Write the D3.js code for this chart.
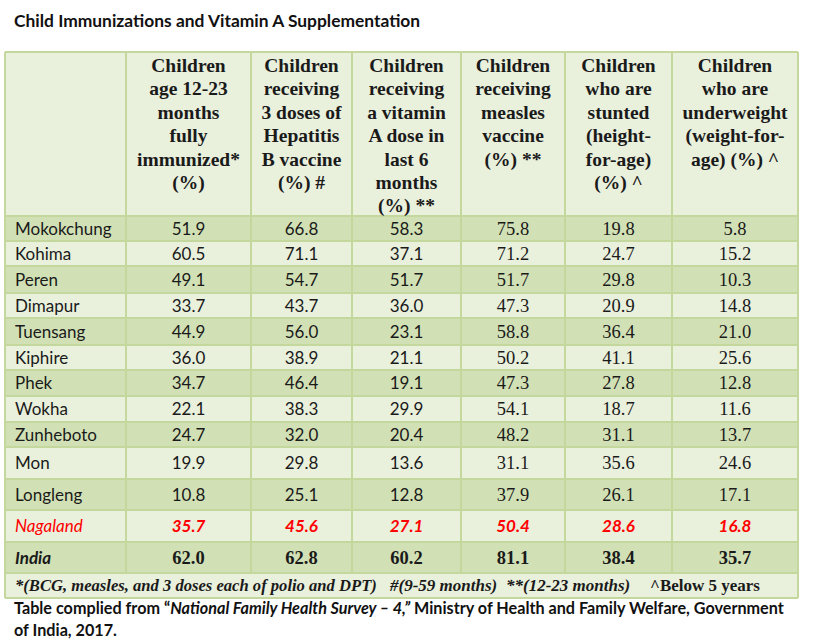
<!DOCTYPE html>
<html><head><meta charset="utf-8">
<script src="https://cdn.jsdelivr.net/npm/d3@7"></script>
<style>
html,body{margin:0;padding:0;background:#fff;}
svg{display:block;}
</style></head>
<body>
<script>
// ---------- data ----------
const title = "Child Immunizations and Vitamin A Supplementation";
const districts = ["Mokokchung","Kohima","Peren","Dimapur","Tuensang","Kiphire","Phek","Wokha","Zunheboto","Mon","Longleng","Nagaland","India"];
const fullyImmunized = [51.9,60.5,49.1,33.7,44.9,36.0,34.7,22.1,24.7,19.9,10.8,35.7,62.0];
const hepatitisB     = [66.8,71.1,54.7,43.7,56.0,38.9,46.4,38.3,32.0,29.8,25.1,45.6,62.8];
const vitaminA       = [58.3,37.1,51.7,36.0,23.1,21.1,19.1,29.9,20.4,13.6,12.8,27.1,60.2];
const measles        = [75.8,71.2,51.7,47.3,58.8,50.2,47.3,54.1,48.2,31.1,37.9,50.4,81.1];
const stunted        = [19.8,24.7,29.8,20.9,36.4,41.1,27.8,18.7,31.1,35.6,26.1,28.6,38.4];
const underweight    = [5.8,15.2,10.3,14.8,21.0,25.6,12.8,11.6,13.7,24.6,17.1,16.8,35.7];
const headers = [
  ["Children","age 12-23","months","fully","immunized*","(%)"],
  ["Children","receiving","3 doses of","Hepatitis","B vaccine","(%) #"],
  ["Children","receiving","a vitamin","A dose in","last 6","months","(%) **"],
  ["Children","receiving","measles","vaccine","(%) **"],
  ["Children","who are","stunted","(height-","for-age)","(%) ^"],
  ["Children","who are","underweight","(weight-for-","age) (%) ^"]
];
const footnotes = ["*(BCG, measles, and 3 doses each of polio and DPT)", "#(9-59 months)", "**(12-23 months)", "^Below 5 years"];
const sourceLine1a = "Table complied from \u201c";
const sourceLine1b = "National Family Health Survey \u2013 4,\u201d";
const sourceLine1c = " Ministry of Health and Family Welfare, Government";
const sourceLine2 = "of India, 2017.";

// ---------- layout ----------
const W = 813, H = 644;
const colEdges = [5,126,251,352,461,565,672,798];
const tableTop = 52, headerBottom = 216;
const rowHeights = [25,25,27,25,27,25,26,26,25,32,31,32,31];
const footH = 25;
const footX = [15, 390, 506, 650];
const footSize = [16.6, 17, 17, 17];
const light = "#e9f0dc", dark = "#d2e1b5", border = "#c4d89e";
const sans = "Lato, 'Open Sans', sans-serif";
const serif = "'Liberation Serif', 'Times New Roman', serif";

const series = [fullyImmunized, hepatitisB, vitaminA, measles, stunted, underweight];
const rowTops = d3.cumsum([headerBottom, ...rowHeights]).slice(0, rowHeights.length);
const tableBottom = headerBottom + d3.sum(rowHeights);

const y = d3.scaleOrdinal().domain(districts).range(rowTops);
const colKeys = d3.range(colEdges.length - 1);
const xLeft = d3.scaleOrdinal().domain(colKeys).range(colEdges.slice(0, -1));
const xRight = d3.scaleOrdinal().domain(colKeys).range(colEdges.slice(1));
const xMid = c => (xLeft(c) + xRight(c)) / 2;
const fmt = d3.format(".1f");

const svg = d3.select("body").append("svg").attr("width", W).attr("height", H);

// title
svg.append("text").attr("x", 14).attr("y", 27)
  .attr("font-family", sans).attr("font-weight", 700).attr("font-size", 17.4)
  .attr("fill", "#111").text(title);

// header background
svg.append("rect").attr("x", colEdges[0]).attr("y", tableTop)
  .attr("width", colEdges[colEdges.length-1]-colEdges[0]).attr("height", headerBottom - tableTop)
  .attr("fill", light);

// row backgrounds
svg.selectAll("rect.row").data(districts).join("rect").attr("class","row")
  .attr("x", colEdges[0]).attr("y", d => y(d))
  .attr("width", colEdges[colEdges.length-1]-colEdges[0])
  .attr("height", (d,i) => rowHeights[i])
  .attr("fill", (d,i) => i % 2 === 0 ? dark : light);

// footnote background
svg.append("rect").attr("x", colEdges[0]).attr("y", tableBottom)
  .attr("width", colEdges[colEdges.length-1]-colEdges[0]).attr("height", footH)
  .attr("fill", light);

// grid lines
const g = svg.append("g").attr("stroke", border).attr("stroke-width", 2);
[tableTop, ...rowTops, tableBottom, tableBottom + footH].forEach(yy => {
  g.append("line").attr("x1", colEdges[0]).attr("x2", colEdges[colEdges.length-1]).attr("y1", yy).attr("y2", yy);
});
colEdges.forEach((xx, i) => {
  const full = i === 0 || i === colEdges.length - 1;
  g.append("line").attr("x1", xx).attr("x2", xx).attr("y1", tableTop).attr("y2", full ? tableBottom + footH : tableBottom);
});

// headers
headers.forEach((lines, c) => {
  const t = svg.append("text").attr("text-anchor", "middle")
    .attr("font-family", serif).attr("font-weight", 700).attr("font-size", 19.5).attr("fill", "#1a1a1a");
  lines.forEach((ln, k) => {
    t.append("tspan").attr("x", xMid(c + 1)).attr("y", 72 + k * 23.4).text(ln);
  });
});

// district names
svg.selectAll("text.name").data(districts).join("text").attr("class","name")
  .attr("x", 15)
  .attr("y", (d,i) => y(d) + rowHeights[i] / 2 + 6)
  .attr("font-family", sans).attr("font-size", 17)
  .attr("font-style", d => (d === "Nagaland" || d === "India") ? "italic" : "normal")
  .attr("font-weight", d => d === "India" ? 700 : 400)
  .attr("fill", d => d === "Nagaland" ? "#ff0000" : "#1a1a1a")
  .text(d => d);

// values
series.forEach((vals, c) => {
  svg.selectAll("text.v" + c).data(vals).join("text").attr("class", "v" + c)
    .attr("text-anchor", "middle")
    .attr("x", xMid(c + 1))
    .attr("y", (d,i) => y(districts[i]) + rowHeights[i] / 2 + 6)
    .attr("font-family", (d,i) => {
      const name = districts[i];
      if (name === "Nagaland") return sans;
      if (name === "India") return serif;
      return c < 3 ? sans : serif;
    })
    .attr("font-size", (d,i) => (c < 3 && districts[i] !== "India") || districts[i] === "Nagaland" ? 17 : 18.5)
    .attr("font-style", (d,i) => districts[i] === "Nagaland" ? "italic" : "normal")
    .attr("font-weight", (d,i) => (districts[i] === "Nagaland" || districts[i] === "India") ? 700 : 400)
    .attr("fill", (d,i) => districts[i] === "Nagaland" ? "#ff0000" : "#1a1a1a")
    .text(d => fmt(d));
});

// footnote
svg.selectAll("text.foot").data(footnotes).join("text").attr("class", "foot")
  .attr("x", (d,i) => footX[i]).attr("y", tableBottom + 18)
  .attr("font-family", serif).attr("font-size", (d,i) => footSize[i]).attr("font-weight", 700)
  .attr("font-style", (d,i) => i < 3 ? "italic" : "normal")
  .attr("fill", "#1a1a1a").text(d => d);

// source
const s1 = svg.append("text").attr("x", 14).attr("y", 614)
  .attr("font-family", sans).attr("font-size", 16.2).attr("font-weight", 700).attr("fill", "#111");
s1.append("tspan").text(sourceLine1a);
s1.append("tspan").attr("font-style", "italic").text(sourceLine1b);
s1.append("tspan").text(sourceLine1c);
svg.append("text").attr("x", 14).attr("y", 636)
  .attr("font-family", sans).attr("font-size", 16.2).attr("font-weight", 700).attr("fill", "#111")
  .text(sourceLine2);
</script>
</body></html>
